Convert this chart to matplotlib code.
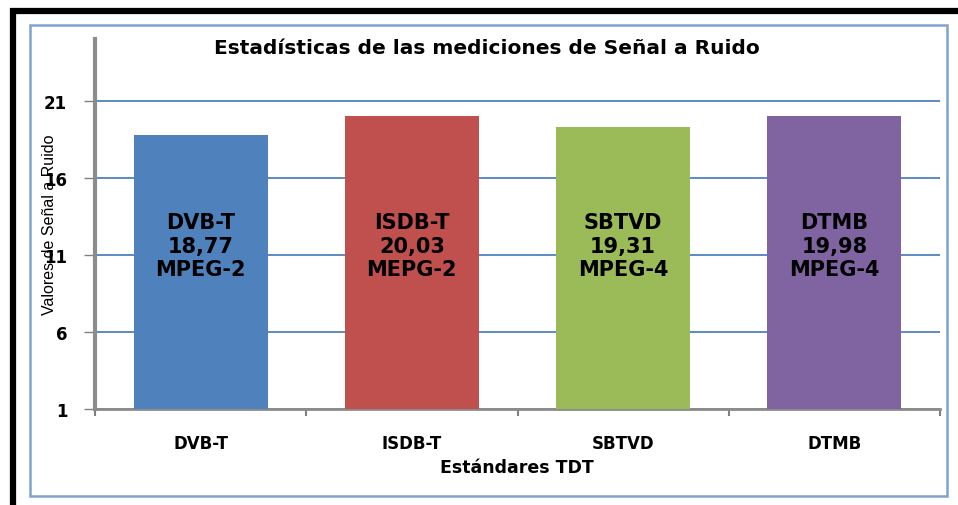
import matplotlib.pyplot as plt
from matplotlib.patches import Rectangle
import numpy as np

# datos del gráfico
estandares = ['DVB-T', 'ISDB-T', 'SBTVD', 'DTMB']
valores = [18.77, 20.03, 19.31, 19.98]
codecs = ['MPEG-2', 'MEPG-2', 'MPEG-4', 'MPEG-4']
colores = ['#4F81BD', '#C0504D', '#9BBB59', '#8064A2']
yticks = [1, 6, 11, 16, 21]

plt.rcParams['font.family'] = ['DejaVu Sans']

fig = plt.figure(figsize=(9.58, 5.06), dpi=100)
W, H = 958, 506

# marco negro exterior y borde azul del área del gráfico
fig.patches.append(Rectangle((12.5 / W, -0.1), 1.2, 1 - 12 / H + 0.1, transform=fig.transFigure,
                             fill=False, edgecolor='black', linewidth=4.5, zorder=0))
fig.patches.append(Rectangle((30 / W, 1 - 497 / H), 917 / W, 471 / H, transform=fig.transFigure,
                             fill=False, edgecolor='#7EA3CF', linewidth=1.8, zorder=0))

ax = fig.add_axes([95 / W, 1 - 410 / H, 845 / W, 370 / H])
x = np.arange(len(estandares))
ax.bar(x, valores, width=0.635, color=colores, zorder=3)
ax.set_xlim(-0.5, 3.5)
ax.set_ylim(1, 25)
ax.set_yticks(yticks)
ax.set_yticklabels([str(v) for v in yticks], fontsize=12, fontweight='bold')
ax.yaxis.grid(True, color='#4F81BD', linewidth=1.3, zorder=1)
ax.set_axisbelow(True)

ax.set_xticks([-0.5, 0.5, 1.5, 2.5, 3.5], minor=False)
ax.set_xticklabels([])
ax.set_xticks(x, minor=True)
ax.set_xticklabels(estandares, minor=True, fontsize=12, fontweight='bold')
ax.tick_params(axis='x', which='minor', length=0, pad=18)
ax.tick_params(axis='x', which='major', length=5, width=1.5, color='#808080', direction='out')
ax.tick_params(axis='y', length=8, width=1, color='#808080', pad=12)

for s in ['top', 'right']:
    ax.spines[s].set_visible(False)
ax.spines['left'].set_color('#8C8C8C')
ax.spines['left'].set_linewidth(3)
ax.spines['bottom'].set_color('#8C8C8C')
ax.spines['bottom'].set_linewidth(2)

for i, (n, v, c) in enumerate(zip(estandares, valores, codecs)):
    ax.text(i, 11.6, '%s\n%s\n%s' % (n, ('%.2f' % v).replace('.', ','), c),
            ha='center', va='center', fontsize=15, fontweight='bold',
            linespacing=1.2, zorder=4)

fig.text(487 / W, 1 - 49 / H, 'Estadísticas de las mediciones de Señal a Ruido',
         ha='center', va='center', fontsize=14.5, fontweight='bold')
fig.text(517 / W, 1 - 468 / H, 'Estándares TDT', ha='center', va='center',
         fontsize=12.5, fontweight='bold')
fig.text(50 / W, 1 - 225 / H, 'Valores de Señal a Ruido', ha='center', va='center',
         rotation=90, fontsize=11.5, family=['Liberation Sans', 'DejaVu Sans'])

fig.savefig('out.png', dpi=100)
